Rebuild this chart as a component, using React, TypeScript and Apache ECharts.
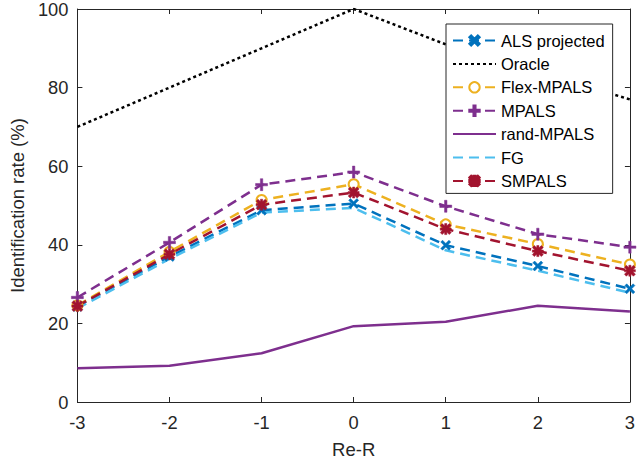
import { useEffect, useRef } from 'react';
import * as echarts from 'echarts';

const reR = [-3, -2, -1, 0, 1, 2, 3];
const alsProjected = [24.3, 37.0, 48.8, 50.5, 39.9, 34.6, 28.8];
const oracle = [70, 80, 90, 100, 91, 84, 77];
const flexMpals = [24.6, 38.2, 51.4, 55.4, 45.2, 40.2, 35.0];
const mpals = [26.6, 40.6, 55.3, 58.5, 49.8, 42.7, 39.4];
const randMpals = [8.6, 9.2, 12.4, 19.3, 20.4, 24.5, 23.0];
const fg = [23.8, 36.4, 48.2, 49.4, 38.6, 33.4, 27.8];
const smpals = [24.4, 37.6, 50.2, 53.3, 44.0, 38.4, 33.4];

const FONT = 'Liberation Sans, Arial, sans-serif';
const AXIS = '#262626';

const crossSym = 'path://M0,1.8L1.8,0L5,3.2L8.2,0L10,1.8L6.8,5L10,8.2L8.2,10L5,6.8L1.8,10L0,8.2L3.2,5Z';
const plusSym = 'path://M4,0H6V4H10V6H6V10H4V6H0V4H4Z';
const starSym =
  'path://M4,0H6V4H10V6H6V10H4V6H0V4H4Z M0,1.8L1.8,0L5,3.2L8.2,0L10,1.8L6.8,5L10,8.2L8.2,10L5,6.8L1.8,10L0,8.2L3.2,5Z';

const pairs = (ys: number[]) => reR.map((x, i) => [x, ys[i]]);

const App = () => {
  const chartRef = useRef<HTMLDivElement | null>(null);

  useEffect(() => {
    if (!chartRef.current) return;
    const myChart = echarts.init(chartRef.current, null, { renderer: 'svg' });

    const dashed = [10, 6];
    const mk = (name: string, data: number[], color: string, type: any, symbol: string, symbolSize: number) => ({
      name,
      type: 'line',
      data: pairs(data),
      symbol: symbol === 'none' ? 'circle' : symbol,
      symbolSize,
      showSymbol: symbol !== 'none',
      lineStyle: { color, width: 2.5, type },
      itemStyle: { color, borderColor: color, borderWidth: symbol === 'emptyCircle' ? 2.2 : 0.5 },
      emphasis: { disabled: true },
    });

    const xBase = {
      type: 'value',
      min: -3,
      max: 3,
      interval: 1,
      splitLine: { show: false },
      axisLine: { show: true, onZero: false, lineStyle: { color: AXIS, width: 1 } },
      axisTick: { show: true, inside: true, length: 5, lineStyle: { color: AXIS } },
    };
    const yBase = {
      type: 'value',
      min: 0,
      max: 100,
      interval: 20,
      splitLine: { show: false },
      axisLine: { show: true, onZero: false, lineStyle: { color: AXIS, width: 1 } },
      axisTick: { show: true, inside: true, length: 5, lineStyle: { color: AXIS } },
    };

    const hidden = { opacity: 0, color: 'rgba(0,0,0,0)', borderWidth: 0 };

    const option = {
      animation: false,
      textStyle: { fontFamily: FONT },
      grid: { left: 67, right: 8, top: 7, bottom: 57 },
      xAxis: [
        {
          ...xBase,
          position: 'bottom',
          name: 'Re-R',
          nameLocation: 'middle',
          nameGap: 38,
          nameTextStyle: { fontSize: 18.5, color: AXIS, fontFamily: FONT },
          axisLabel: { fontSize: 18.3, color: AXIS, margin: 11, fontFamily: FONT },
        },
        { ...xBase, position: 'top', axisLabel: { show: false } },
      ],
      yAxis: [
        {
          ...yBase,
          position: 'left',
          name: 'Identification rate (%)',
          nameLocation: 'middle',
          nameGap: 48,
          nameTextStyle: { fontSize: 18.5, color: AXIS, fontFamily: FONT },
          axisLabel: { fontSize: 18.3, color: AXIS, margin: 9, fontFamily: FONT },
        },
        { ...yBase, position: 'right', axisLabel: { show: false } },
      ],
      legend: {
        orient: 'vertical',
        left: 446,
        top: 24,
        width: 166,
        padding: [8, 8, 4, 6],
        itemWidth: 43,
        itemHeight: 13,
        itemGap: 6.4,
        backgroundColor: '#ffffff',
        borderColor: AXIS,
        borderWidth: 1,
        borderRadius: 0,
        textStyle: { fontSize: 16.5, color: '#000000', fontFamily: FONT },
        data: [
          { name: 'ALS projected' },
          { name: 'Oracle', itemStyle: hidden },
          { name: 'Flex-MPALS' },
          { name: 'MPALS' },
          { name: 'rand-MPALS', itemStyle: hidden },
          { name: 'FG', itemStyle: hidden },
          { name: 'SMPALS' },
        ],
      },
      series: [
        mk('ALS projected', alsProjected, '#0072BD', dashed, crossSym, 10),
        mk('Oracle', oracle, '#000000', [3, 3], 'none', 0),
        mk('Flex-MPALS', flexMpals, '#EDB120', dashed, 'emptyCircle', 10),
        mk('MPALS', mpals, '#7E2F8E', dashed, plusSym, 12),
        mk('rand-MPALS', randMpals, '#7E2F8E', 'solid', 'none', 0),
        mk('FG', fg, '#4DBEEE', dashed, 'none', 0),
        mk('SMPALS', smpals, '#A2142F', dashed, starSym, 11),
      ],
    };

    myChart.setOption(option as any);
    return () => {
      myChart.dispose();
    };
  }, []);

  return (
    <div
      ref={chartRef}
      style={{ position: 'absolute', left: 0, top: 0, width: '638px', height: '464px', background: '#ffffff' }}
    />
  );
};

export default App;
